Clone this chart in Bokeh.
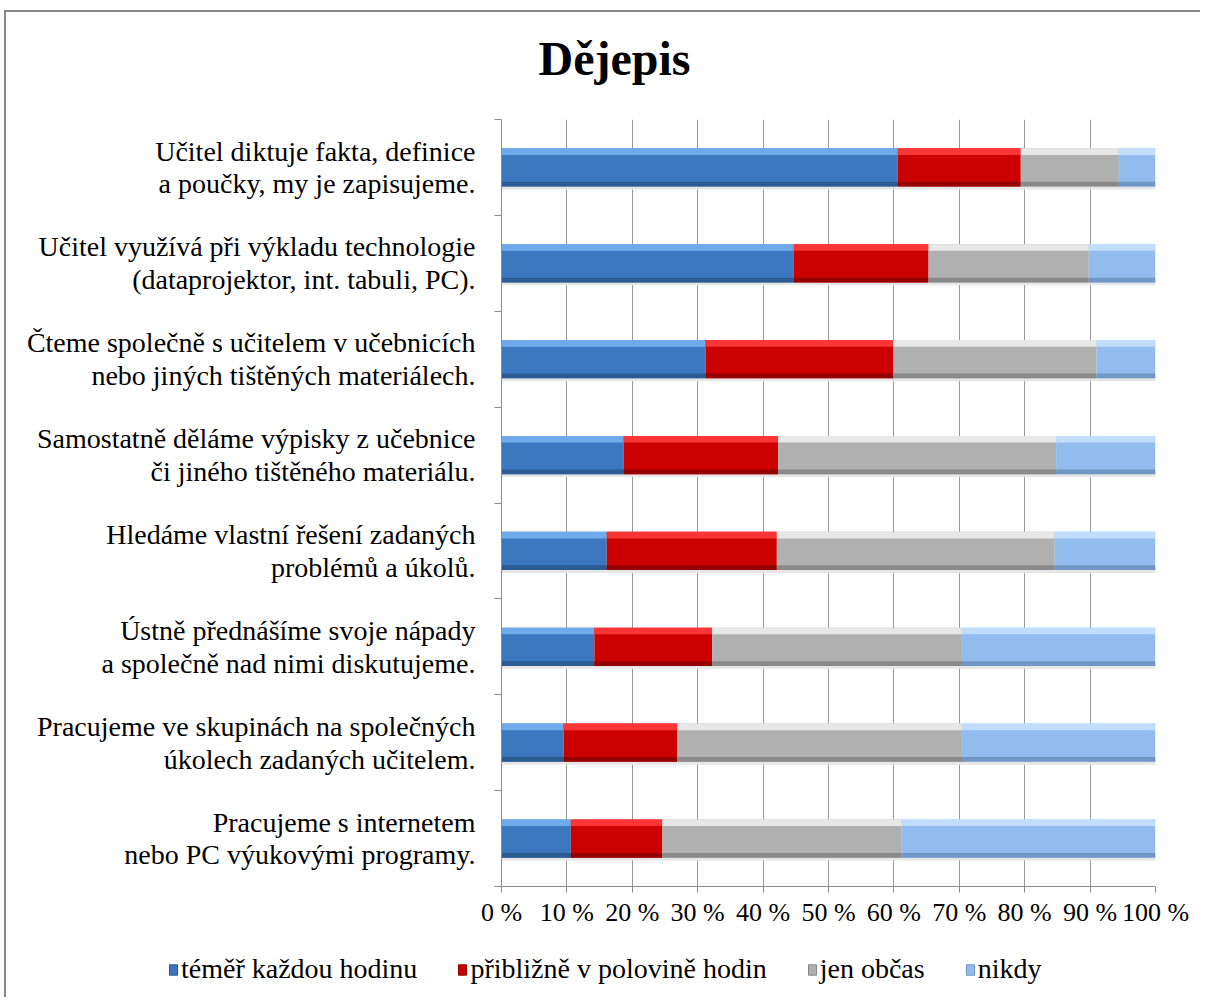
from bokeh.plotting import figure
from bokeh.layouts import column
from bokeh.models import (ColumnDataSource, Range1d, FixedTicker, Legend, LegendItem, Label)
from bokeh.embed import file_html
from bokeh.resources import INLINE

# ---------------- data ----------------
title_text = "Dějepis"
categories = [
    "Učitel diktuje fakta, definice\na poučky, my je zapisujeme.",
    "Učitel využívá při výkladu technologie\n(dataprojektor, int. tabuli, PC).",
    "Čteme společně s učitelem v učebnicích\nnebo jiných tištěných materiálech.",
    "Samostatně děláme výpisky z učebnice\nči jiného tištěného materiálu.",
    "Hledáme vlastní řešení zadaných\nproblémů a úkolů.",
    "Ústně přednášíme svoje nápady\na společně nad nimi diskutujeme.",
    "Pracujeme ve skupinách na společných\núkolech zadaných učitelem.",
    "Pracujeme s internetem\nnebo PC výukovými programy.",
]
series_names = ["téměř každou hodinu", "přibližně v polovině hodin", "jen občas", "nikdy"]
kazdou = [60.6, 44.7, 31.2, 18.7, 16.1, 14.2, 9.5, 10.6]
polovina = [18.8, 20.6, 28.7, 23.6, 26.0, 18.0, 17.4, 14.0]
obcas = [15.0, 24.5, 31.1, 42.5, 42.5, 38.2, 43.5, 36.6]
nikdy = [5.6, 10.2, 9.0, 15.2, 15.4, 29.6, 29.6, 38.8]
x_ticks = [0, 10, 20, 30, 40, 50, 60, 70, 80, 90, 100]
x_tick_labels = ["0 %", "10 %", "20 %", "30 %", "40 %", "50 %", "60 %", "70 %", "80 %", "90 %", "100 %"]

# styles: (base, highlight, shadow)
styles = [
    ("#3d77c0", "#74b0f0", "#2a568e"),
    ("#cc0000", "#ff3b3b", "#8e0000"),
    ("#b0b0b0", "#ededed", "#858585"),
    ("#93bcee", "#c8e1ff", "#6e92c2"),
]

FONT = "Liberation Serif"
W = 1194
n = len(categories)
ypos = [n - i - 0.5 for i in range(n)]
BAR_H = 0.4


def holder(height):
    f = figure(width=W, height=height, output_backend="svg", toolbar_location=None,
               x_axis_type=None, y_axis_type=None, min_border=0,
               x_range=Range1d(0, W), y_range=Range1d(0, height))
    f.outline_line_color = None
    f.xgrid.visible = False
    f.ygrid.visible = False
    f.frame_align = False
    return f


# ---- title strip ----
TH = 107
tf = holder(TH)
tf.add_layout(Label(x=608, y=61, text=title_text, text_align="center",
                    text_baseline="alphabetic", text_font=FONT,
                    text_font_size="48px", text_font_style="bold",
                    text_color="black"))

# ---- main chart ----
p = figure(width=W, height=821, output_backend="svg", toolbar_location=None,
           x_range=Range1d(0, 100), y_range=Range1d(0, n),
           min_border_left=495, min_border_right=45, min_border_top=0,
           min_border_bottom=54)
p.outline_line_color = None
p.background_fill_color = "white"
p.border_fill_color = "white"
p.frame_align = False

p.ygrid.visible = False
p.xgrid.ticker = FixedTicker(ticks=x_ticks)
p.xgrid.grid_line_color = "#989898"
p.xgrid.grid_line_width = 1

xa = p.xaxis[0]
xa.ticker = FixedTicker(ticks=x_ticks)
xa.major_label_overrides = {t: l for t, l in zip(x_ticks, x_tick_labels)}
xa.major_label_text_font = FONT
xa.major_label_text_font_size = "26px"
xa.major_label_text_color = "black"
xa.major_tick_in = 0
xa.major_tick_out = 6
xa.minor_tick_out = 0
xa.minor_tick_in = 0
xa.axis_line_color = "#8c8c8c"
xa.major_tick_line_color = "#8c8c8c"
xa.major_label_standoff = 5

ya = p.yaxis[0]
ya.ticker = FixedTicker(ticks=ypos, minor_ticks=list(range(0, n + 1)))
ya.major_label_overrides = {y: c for y, c in zip(ypos, categories)}
ya.major_label_text_font = FONT
ya.major_label_text_font_size = "28px"
ya.major_label_text_color = "black"
ya.major_label_text_line_height = 1.06
ya.major_tick_in = 0
ya.major_tick_out = 0
ya.minor_tick_in = 0
ya.minor_tick_out = 7
ya.minor_tick_line_color = "#8c8c8c"
ya.axis_line_color = "#8c8c8c"
ya.major_label_standoff = 19

# ---- legend strip ----
LH = 57
lf = holder(LH)

values = [kazdou, polovina, obcas, nikdy]
left = [0.0] * n
legend_items = []
for name, vals, (base, hi, sh) in zip(series_names, values, styles):
    right = [l + v for l, v in zip(left, vals)]
    src = ColumnDataSource(dict(
        y=ypos,
        y_hi=[y + BAR_H / 2 - 0.035 for y in ypos],
        y_sh=[y - BAR_H / 2 + 0.025 for y in ypos],
        y_drop=[y - BAR_H / 2 - 0.015 for y in ypos],
        left=left, right=right))
    p.hbar(y="y_drop", left="left", right="right", height=0.03, source=src,
           fill_color="#e6e6e6", line_color=None)
    p.hbar(y="y", left="left", right="right", height=BAR_H, source=src,
           fill_color=base, line_color=None)
    p.hbar(y="y_hi", left="left", right="right", height=0.07, source=src,
           fill_color=hi, line_color=None, fill_alpha=0.9)
    p.hbar(y="y_sh", left="left", right="right", height=0.05, source=src,
           fill_color=sh, line_color=None, fill_alpha=0.9)
    # legend proxy renderer: one off-range row so the legend swatch has a style
    proxy = ColumnDataSource(dict(y=[-50.0], left=[0.0], right=[0.0]))
    r = lf.hbar(y="y", left="left", right="right", height=1, source=proxy,
                fill_color=base, line_color=sh, line_width=1)
    legend_items.append(LegendItem(label=name, renderers=[r]))
    left = right

legend = Legend(items=legend_items, orientation="horizontal",
                location=(162, 12), label_text_font=FONT,
                label_text_font_size="28px", label_text_color="black",
                glyph_width=10, glyph_height=13, label_standoff=3,
                spacing=40, padding=0, margin=0, border_line_color=None,
                background_fill_alpha=0)
lf.add_layout(legend, "center")

layout = column(tf, p, lf, spacing=0,
                styles={"border-top": "2px solid #878787",
                        "border-left": "2px solid #878787",
                        "margin-left": "4px", "margin-top": "10px"})
open("out.html", "w").write(file_html(layout, INLINE))
